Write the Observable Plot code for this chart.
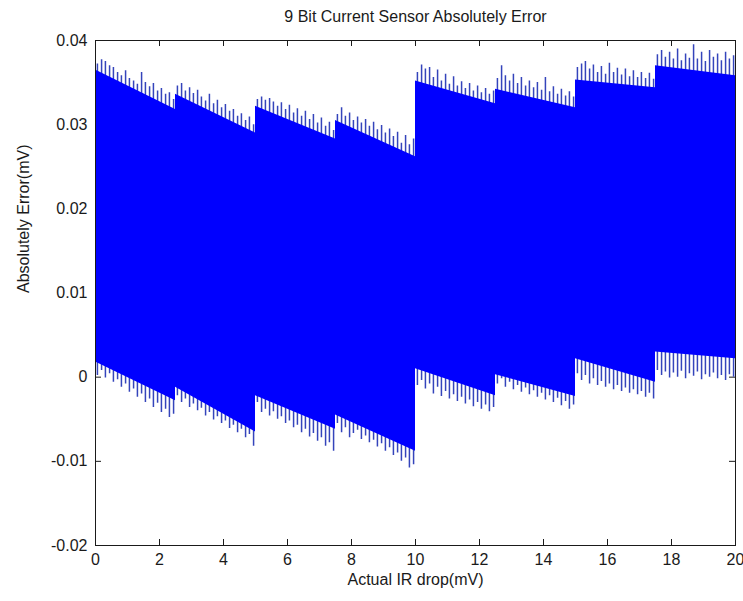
<!DOCTYPE html>
<html>
<head>
<meta charset="utf-8">
<script src="https://cdn.jsdelivr.net/npm/d3@7"></script>
<script src="https://cdn.jsdelivr.net/npm/@observablehq/plot@0.6"></script>
<style>
  html, body { margin: 0; padding: 0; background: #fff; }
</style>
</head>
<body>
<div id="chart"></div>
<script>
const title = "9 Bit Current Sensor Absolutely Error";
const xLabel = "Actual IR drop(mV)";
const yLabel = "Absolutely Error(mV)";
const xTicks = [0, 2, 4, 6, 8, 10, 12, 14, 16, 18, 20];
const yTicks = [-0.02, -0.01, 0, 0.01, 0.02, 0.03, 0.04];

// solid band envelope (segment start/end)
const envX = [0, 2.5, 2.5, 5, 5, 7.5, 7.5, 10, 10, 12.5, 12.5, 15, 15, 17.5, 17.5, 20];
const envTop = [0.0365, 0.0318, 0.0336, 0.0290, 0.0322, 0.0283, 0.0305, 0.0262, 0.0352, 0.0325, 0.0342, 0.0320, 0.0353, 0.0344, 0.0370, 0.0358];
const envBottom = [0.0018, -0.0028, -0.0012, -0.0065, -0.0022, -0.0062, -0.0045, -0.0088, 0.0010, -0.0022, 0.0003, -0.0023, 0.0022, -0.0006, 0.0030, 0.0022];

// oscillation spikes: position, peak and trough
const teethX = [
  0.06,0.19,0.31,0.44,0.56,0.69,0.81,0.94,1.06,1.19,1.31,1.44,1.56,1.69,1.81,1.94,2.06,2.19,2.31,2.44,
  2.56,2.69,2.81,2.94,3.06,3.19,3.31,3.44,3.56,3.69,3.81,3.94,4.06,4.19,4.31,4.44,4.56,4.69,4.81,4.94,
  5.06,5.19,5.31,5.44,5.56,5.69,5.81,5.94,6.06,6.19,6.31,6.44,6.56,6.69,6.81,6.94,7.06,7.19,7.31,7.44,
  7.56,7.69,7.81,7.94,8.06,8.19,8.31,8.44,8.56,8.69,8.81,8.94,9.06,9.19,9.31,9.44,9.56,9.69,9.81,9.94,
  10.06,10.19,10.31,10.44,10.56,10.69,10.81,10.94,11.06,11.19,11.31,11.44,11.56,11.69,11.81,11.94,12.06,12.19,12.31,12.44,
  12.56,12.69,12.81,12.94,13.06,13.19,13.31,13.44,13.56,13.69,13.81,13.94,14.06,14.19,14.31,14.44,14.56,14.69,14.81,14.94,
  15.06,15.19,15.31,15.44,15.56,15.69,15.81,15.94,16.06,16.19,16.31,16.44,16.56,16.69,16.81,16.94,17.06,17.19,17.31,17.44,
  17.56,17.69,17.81,17.94,18.06,18.19,18.31,18.44,18.56,18.69,18.81,18.94,19.06,19.19,19.31,19.44,19.56,19.69,19.81,19.94
];
const teethHigh = [
  0.0372,0.0377,0.0375,0.0370,0.0368,0.0362,0.0358,0.0364,0.0355,0.0352,0.0348,0.0362,0.0350,0.0345,0.0349,0.0340,0.0343,0.0336,0.0338,0.0330,
  0.0346,0.0349,0.0340,0.0344,0.0337,0.0341,0.0333,0.0328,0.0336,0.0325,0.0329,0.0320,0.0324,0.0316,0.0318,0.0310,0.0313,0.0305,0.0309,0.0300,
  0.0330,0.0333,0.0329,0.0331,0.0327,0.0322,0.0326,0.0318,0.0323,0.0314,0.0319,0.0310,0.0316,0.0306,0.0312,0.0302,0.0308,0.0298,0.0303,0.0293,
  0.0312,0.0320,0.0310,0.0314,0.0305,0.0309,0.0302,0.0306,0.0298,0.0303,0.0294,0.0299,0.0290,0.0295,0.0286,0.0291,0.0278,0.0287,0.0276,0.0283,
  0.0362,0.0371,0.0366,0.0368,0.0356,0.0365,0.0352,0.0360,0.0348,0.0357,0.0346,0.0351,0.0343,0.0349,0.0340,0.0346,0.0338,0.0343,0.0336,0.0340,
  0.0355,0.0370,0.0358,0.0352,0.0360,0.0349,0.0356,0.0346,0.0352,0.0344,0.0350,0.0341,0.0356,0.0339,0.0345,0.0336,0.0342,0.0334,0.0339,0.0333,
  0.0368,0.0372,0.0375,0.0366,0.0371,0.0362,0.0369,0.0360,0.0373,0.0362,0.0367,0.0359,0.0366,0.0357,0.0364,0.0356,0.0362,0.0355,0.0361,0.0354,
  0.0383,0.0388,0.0380,0.0386,0.0378,0.0390,0.0376,0.0384,0.0379,0.0395,0.0378,0.0386,0.0375,0.0388,0.0380,0.0384,0.0376,0.0386,0.0378,0.0382
];
const teethLow = [
  0.0002,0.0008,-0.0001,0.0004,-0.0006,-0.0003,-0.0012,-0.0008,-0.0018,-0.0014,-0.0024,-0.0020,-0.0030,-0.0026,-0.0036,-0.0031,-0.0042,-0.0038,-0.0048,-0.0044,
  -0.0022,-0.0030,-0.0026,-0.0036,-0.0032,-0.0040,-0.0037,-0.0046,-0.0042,-0.0051,-0.0047,-0.0055,-0.0052,-0.0061,-0.0057,-0.0066,-0.0062,-0.0072,-0.0068,-0.0082,
  -0.0030,-0.0042,-0.0038,-0.0046,-0.0041,-0.0050,-0.0047,-0.0055,-0.0052,-0.0060,-0.0057,-0.0066,-0.0062,-0.0071,-0.0067,-0.0076,-0.0072,-0.0082,-0.0078,-0.0088,
  -0.0055,-0.0066,-0.0060,-0.0072,-0.0067,-0.0063,-0.0074,-0.0070,-0.0078,-0.0075,-0.0083,-0.0079,-0.0088,-0.0084,-0.0093,-0.0090,-0.0100,-0.0096,-0.0108,-0.0104,
  -0.0010,-0.0004,-0.0014,-0.0008,-0.0020,-0.0012,-0.0023,-0.0017,-0.0026,-0.0021,-0.0029,-0.0024,-0.0032,-0.0027,-0.0035,-0.0030,-0.0038,-0.0033,-0.0041,-0.0036,
  -0.0008,-0.0002,-0.0012,-0.0006,-0.0015,-0.0010,-0.0018,-0.0013,-0.0021,-0.0016,-0.0024,-0.0019,-0.0027,-0.0022,-0.0030,-0.0025,-0.0034,-0.0029,-0.0038,-0.0033,
  0.0004,-0.0004,0.0002,-0.0008,-0.0002,-0.0010,-0.0005,-0.0012,-0.0008,-0.0015,-0.0010,-0.0017,-0.0013,-0.0019,-0.0015,-0.0021,-0.0017,-0.0024,-0.0019,-0.0026,
  0.0008,0.0002,0.0006,-0.0001,0.0005,0.0000,0.0007,-0.0002,0.0004,0.0001,0.0006,-0.0003,0.0003,0.0000,0.0005,-0.0002,0.0002,-0.0004,0.0003,0.0000
];

const env = envX.map((x, i) => ({x, top: envTop[i], bottom: envBottom[i]}));
const teeth = teethX.map((x, i) => ({x, high: teethHigh[i], low: teethLow[i]}));

const W = 743, H = 601;
const mL = 95, mR = 8, mT = 40, mB = 56;
const frameH = H - mT - mB, frameW = W - mL - mR;
const tick = 6;
const ink = "#1a1a1a";
const fmtY = d => d === 0 ? "0" : d.toFixed(2);

const chart = Plot.plot({
  width: W, height: H,
  marginLeft: mL, marginRight: mR, marginTop: mT, marginBottom: mB,
  style: {fontFamily: "'Liberation Sans', Arial, sans-serif", fontSize: "16px", color: ink, background: "#fff", overflow: "visible"},
  x: {domain: [0, 20]},
  y: {domain: [-0.02, 0.04]},
  marks: [
    // inward ticks on all four sides (MATLAB box style)
    Plot.ruleX(xTicks, {x: d => d, insetTop: frameH - tick, stroke: ink}),
    Plot.ruleX(xTicks, {x: d => d, insetBottom: frameH - tick, stroke: ink}),
    Plot.ruleY(yTicks, {y: d => d, insetRight: frameW - tick, stroke: ink}),
    Plot.ruleY(yTicks, {y: d => d, insetLeft: frameW - tick, stroke: ink}),
    // spikes of the oscillating error
    Plot.ruleX(teeth, {x: "x", y1: "low", y2: "high", stroke: "#3444bb", strokeWidth: 1.5}),
    // dense solid band
    Plot.areaY(env, {x: "x", y1: "bottom", y2: "top", fill: "#0000ff", curve: "linear"}),
    Plot.frame({stroke: ink}),
    Plot.axisX(xTicks, {tickSize: 0, tickPadding: 8, label: null, tickFormat: d => String(d)}),
    Plot.axisY(yTicks, {tickSize: 0, tickPadding: 8, label: null, tickFormat: fmtY}),
    Plot.text([title], {frameAnchor: "top", dy: -30, fontSize: 16, fill: ink}),
    Plot.text([xLabel], {frameAnchor: "bottom", dy: 39, fontSize: 16, fill: ink}),
    Plot.text([yLabel], {frameAnchor: "left", dx: -72, rotate: -90, fontSize: 16, fill: ink})
  ]
});
document.getElementById("chart").appendChild(chart);
</script>
</body>
</html>
